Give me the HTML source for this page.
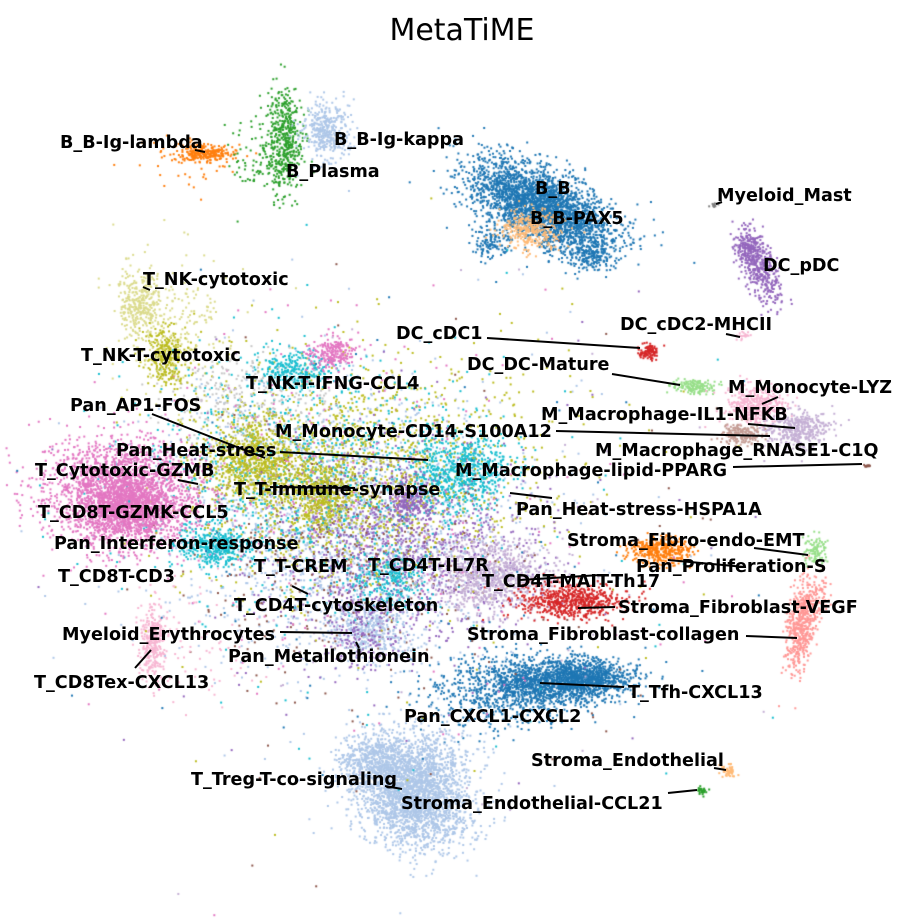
<!DOCTYPE html>
<html><head><meta charset="utf-8"><style>
html,body{margin:0;padding:0;background:#fff;width:924px;height:923px;overflow:hidden}
#c{position:absolute;left:0;top:0}
svg{position:absolute;left:0;top:0}
text{font-family:"DejaVu Sans","Liberation Sans",sans-serif;font-weight:bold;font-size:17.6px;fill:#000}
</style></head><body>
<canvas id="c" width="924" height="923"></canvas>
<svg width="924" height="923" viewBox="0 0 924 923">
<text x="462" y="40" text-anchor="middle" style="font-weight:normal;font-size:30px">MetaTiME</text>
<g stroke="#000" stroke-width="2" fill="none">
<line x1="487" y1="338" x2="640" y2="348"/>
<line x1="612" y1="374" x2="680" y2="385"/>
<line x1="778" y1="397" x2="762" y2="404"/>
<line x1="748" y1="424" x2="795" y2="428"/>
<line x1="556" y1="431" x2="770" y2="436"/>
<line x1="733" y1="467" x2="862" y2="464"/>
<line x1="280" y1="452" x2="428" y2="460"/>
<line x1="152" y1="414" x2="265" y2="458"/>
<line x1="178" y1="480" x2="198" y2="484"/>
<line x1="510" y1="493" x2="552" y2="498"/>
<line x1="270" y1="487" x2="355" y2="488"/>
<line x1="754" y1="548" x2="808" y2="555"/>
<line x1="668" y1="560" x2="745" y2="567"/>
<line x1="520" y1="580" x2="600" y2="575"/>
<line x1="578" y1="608" x2="615" y2="607"/>
<line x1="746" y1="636" x2="797" y2="638"/>
<line x1="280" y1="632" x2="352" y2="633"/>
<line x1="356" y1="642" x2="359" y2="648"/>
<line x1="292" y1="586" x2="308" y2="594"/>
<line x1="135" y1="668" x2="151" y2="650"/>
<line x1="540" y1="683" x2="624" y2="687"/>
<line x1="714" y1="768" x2="726" y2="770"/>
<line x1="385" y1="786" x2="402" y2="789"/>
<line x1="668" y1="793" x2="697" y2="790"/>
<line x1="726" y1="334" x2="740" y2="337"/>
<line x1="143" y1="287" x2="150" y2="290"/>
<line x1="716" y1="204" x2="722" y2="202"/>
<line x1="195" y1="150" x2="205" y2="152"/>
</g>
<text x="60" y="148">B_B-Ig-lambda</text>
<text x="334" y="145">B_B-Ig-kappa</text>
<text x="286" y="177">B_Plasma</text>
<text x="535" y="194">B_B</text>
<text x="530" y="224">B_B-PAX5</text>
<text x="717" y="201">Myeloid_Mast</text>
<text x="763" y="271">DC_pDC</text>
<text x="143" y="285">T_NK-cytotoxic</text>
<text x="396" y="339">DC_cDC1</text>
<text x="620" y="330">DC_cDC2-MHCII</text>
<text x="467" y="370">DC_DC-Mature</text>
<text x="81" y="361">T_NK-T-cytotoxic</text>
<text x="728" y="393">M_Monocyte-LYZ</text>
<text x="246" y="389">T_NK-T-IFNG-CCL4</text>
<text x="70" y="411">Pan_AP1-FOS</text>
<text x="541" y="420">M_Macrophage-IL1-NFKB</text>
<text x="275" y="437">M_Monocyte-CD14-S100A12</text>
<text x="595" y="456">M_Macrophage_RNASE1-C1Q</text>
<text x="116" y="456">Pan_Heat-stress</text>
<text x="35" y="476">T_Cytotoxic-GZMB</text>
<text x="455" y="476">M_Macrophage-lipid-PPARG</text>
<text x="234" y="495">T_T-Immune-synapse</text>
<text x="38" y="518">T_CD8T-GZMK-CCL5</text>
<text x="516" y="515">Pan_Heat-stress-HSPA1A</text>
<text x="567" y="546">Stroma_Fibro-endo-EMT</text>
<text x="54" y="549">Pan_Interferon-response</text>
<text x="254" y="572">T_T-CREM</text>
<text x="368" y="571">T_CD4T-IL7R</text>
<text x="636" y="572">Pan_Proliferation-S</text>
<text x="58" y="582">T_CD8T-CD3</text>
<text x="482" y="587">T_CD4T-MAIT-Th17</text>
<text x="234" y="611">T_CD4T-cytoskeleton</text>
<text x="618" y="613">Stroma_Fibroblast-VEGF</text>
<text x="62" y="640">Myeloid_Erythrocytes</text>
<text x="467" y="640">Stroma_Fibroblast-collagen</text>
<text x="228" y="662">Pan_Metallothionein</text>
<text x="34" y="688">T_CD8Tex-CXCL13</text>
<text x="628" y="698">T_Tfh-CXCL13</text>
<text x="404" y="722">Pan_CXCL1-CXCL2</text>
<text x="531" y="766">Stroma_Endothelial</text>
<text x="191" y="785">T_Treg-T-co-signaling</text>
<text x="401" y="809">Stroma_Endothelial-CCL21</text>
</svg>
<script>
var s=12345;function r(){s=(s*1103515245+12345)%2147483648;return s/2147483648;}
function g(){return Math.sqrt(-2*Math.log(r()+1e-9))*Math.cos(6.2832*r());}
var ctx=document.getElementById('c').getContext('2d');
function cl(cx,cy,sx,sy,col,n,rot){rot=rot||0;var c=Math.cos(rot),sn=Math.sin(rot);ctx.fillStyle=col;
n=Math.round(n*1.3);
for(var i=0;i<n;i++){var a=g()*sx,b=g()*sy;ctx.fillRect(cx+a*c-b*sn,cy+a*sn+b*c,2,2);}}
cl(340,520,85,65,'#aec7e8',1500);cl(330,470,75,55,'#bcbd22',900);cl(400,540,65,45,'#9467bd',900);
cl(300,470,85,55,'#17becf',700);cl(330,560,75,55,'#8c564b',250);cl(300,480,90,70,'#e377c2',200);
cl(420,480,85,55,'#bcbd22',300,-0.3);cl(250,400,40,25,'#c7c7c7',250);
cl(540,205,38,17,'#1f77b4',2200,0.45);cl(490,240,10,8,'#1f77b4',100);cl(590,255,12,8,'#1f77b4',150);
cl(530,228,15,10,'#ffbb78',250);cl(205,152,14,4,'#ff7f0e',200);cl(190,160,25,15,'#ff7f0e',40);
cl(283,140,9,26,'#2ca02c',350);cl(265,155,18,22,'#2ca02c',80);cl(325,130,12,14,'#aec7e8',300);
cl(713,204,2,1,'#7f7f7f',10);
cl(758,265,8,20,'#9467bd',350,-0.4);cl(745,245,7,7,'#9467bd',60);
cl(648,350,5,4,'#d62728',80);cl(692,385,10,4,'#98df8a',120);cl(743,335,3,2,'#f7b6d2',15);
cl(755,405,15,10,'#f7b6d2',300);cl(795,428,16,9,'#c5b0d5',300);cl(740,434,10,5,'#c49c94',150);
cl(866,465,2,1,'#8c564b',10);
cl(140,300,11,18,'#dbdb8d',250);cl(165,355,11,14,'#bcbd22',250);cl(175,320,28,36,'#dbdb8d',150);
cl(125,495,35,25,'#e377c2',2000);cl(130,510,18,12,'#e377c2',400);cl(60,470,25,25,'#e377c2',80);
cl(215,545,18,10,'#17becf',300);cl(290,370,18,10,'#17becf',200);cl(330,352,12,8,'#e377c2',180);
cl(460,470,25,20,'#17becf',500);cl(255,460,25,20,'#bcbd22',600);cl(320,495,15,18,'#bcbd22',300);
cl(410,500,12,10,'#9467bd',150);cl(390,580,20,15,'#17becf',200);
cl(490,575,30,18,'#c5b0d5',700);cl(370,630,20,15,'#aec7e8',300);cl(360,630,25,20,'#9467bd',150);
cl(660,550,15,7,'#ff7f0e',300);cl(815,550,6,8,'#98df8a',80);
cl(570,600,26,9,'#d62728',500);cl(800,625,7,23,'#ff9896',400,0.1);cl(815,595,6,10,'#ff9896',60);
cl(560,680,33,11,'#1f77b4',1100);cl(500,690,38,18,'#1f77b4',500);cl(590,675,20,8,'#1f77b4',300);
cl(410,795,30,24,'#aec7e8',1800,0.6);cl(370,760,16,12,'#aec7e8',300);cl(420,760,28,20,'#aec7e8',400);
cl(728,770,4,3,'#ffbb78',40);cl(700,790,3,2,'#2ca02c',20);
cl(152,640,6,20,'#f7b6d2',250);cl(200,640,30,30,'#f7b6d2',60);
var cols=['#aec7e8','#1f77b4','#17becf','#bcbd22','#9467bd','#e377c2','#c5b0d5','#8c564b'];
for(var k=0;k<cols.length;k++)cl(400,550,150,120,cols[k],60);
</script>
</body></html>
